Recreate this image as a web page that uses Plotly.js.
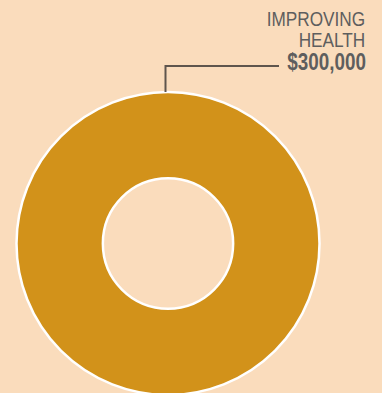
<!DOCTYPE html>
<html>
<head>
<meta charset="utf-8">
<script src="https://cdn.plot.ly/plotly-3.0.1.min.js"></script>
<style>
html,body{margin:0;padding:0;overflow:hidden;background:#FADCBC;}
#chart{width:382px;height:400px;}
#chart .annotation-text{transform-box:fill-box;transform-origin:right center;transform:scaleX(0.82);}
</style>
</head>
<body>
<div id="chart"></div>
<script>
var categories = ["IMPROVING HEALTH"];
var labelLines = ["IMPROVING", "HEALTH"];
var amounts = [300000];
var amountLabels = ["$300,000"];
var sliceColors = ["#D2921A"];

var W = 382, H = 400;
function px(x){return x / W;}
function py(y){return (H - y) / H;}

var textFont = {family: "'Liberation Sans', Arial, sans-serif", size: 21, color: "#5E5E5E"};
var boldFont = {family: "'Liberation Sans', Arial, sans-serif", size: 23, color: "#5E5E5E", weight: "bold"};

var data = [{
  type: "pie",
  labels: categories,
  values: amounts,
  hole: 0.43,
  sort: false,
  textinfo: "none",
  hoverinfo: "label+value",
  marker: {colors: sliceColors, line: {color: "#FFFFFF", width: 2.5}},
  domain: {x: [px(16.5), px(319.5)], y: [py(395), py(92)]},
  showlegend: false
}];

var annotations = [
  {text: labelLines[0], x: px(366), y: py(18.5), xref: "paper", yref: "paper", xanchor: "right", yanchor: "middle", showarrow: false, font: textFont, borderpad: 0},
  {text: labelLines[1], x: px(366), y: py(39.5), xref: "paper", yref: "paper", xanchor: "right", yanchor: "middle", showarrow: false, font: textFont, borderpad: 0},
  {text: "<b>" + amountLabels[0] + "</b>", x: px(366.5), y: py(62), xref: "paper", yref: "paper", xanchor: "right", yanchor: "middle", showarrow: false, font: boldFont, borderpad: 0}
];

var shapes = [{
  type: "path", xref: "paper", yref: "paper",
  path: "M " + px(165.5) + " " + py(92) + " L " + px(165.5) + " " + py(66) + " L " + px(279) + " " + py(66),
  line: {color: "#5E554D", width: 2}
}];

var layout = {
  width: W, height: H,
  margin: {l: 0, r: 0, t: 0, b: 0},
  paper_bgcolor: "#FADCBC",
  plot_bgcolor: "#FADCBC",
  annotations: annotations,
  shapes: shapes,
  showlegend: false
};

Plotly.newPlot("chart", data, layout, {displayModeBar: false, staticPlot: true});
</script>
</body>
</html>
